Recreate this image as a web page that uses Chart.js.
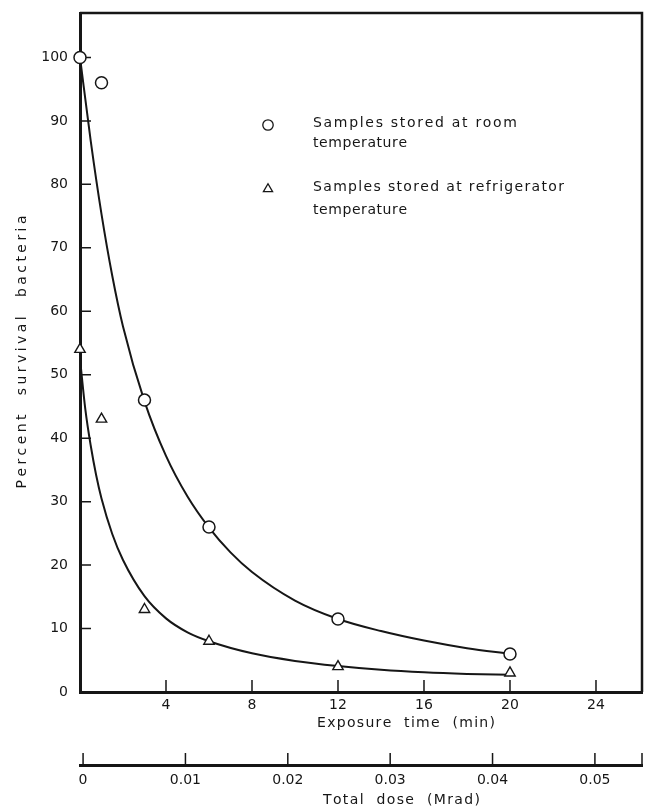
<!DOCTYPE html>
<html lang="en">
<head>
<meta charset="UTF-8">
<title>Percent survival bacteria vs exposure time</title>
<script src="https://cdn.jsdelivr.net/npm/chart.js"></script>
<style>
  html, body { margin: 0; padding: 0; background: #fff; }
  #wrap { position: relative; width: 652px; height: 811px; }
</style>
</head>
<body>
<div id="wrap"><canvas id="chart"></canvas></div>
<script>
    // measured points (exposure time in min, percent survival)
    const exposureMin = [0, 1, 3, 6, 12, 20];
    const roomTemp = [100, 96, 46, 26, 11.5, 6];
    const fridgeTemp = [54, 43, 13, 8, 4, 3];

    // the hand drawn fitted curves
    const roomCurveX = [0, 0.5, 1, 1.5, 2, 3, 4, 5, 6, 7, 8, 10, 12, 14, 16, 18, 20];
    const roomCurveY = [100, 86.8, 75.3, 65.6, 57.6, 45.8, 37.2, 30.8, 25.9, 22, 18.9, 14.4, 11.5, 9.6, 8.1, 6.9, 6];
    const fridgeCurveX = [0, 0.25, 0.5, 0.75, 1, 1.5, 2, 3, 4, 5, 6, 8, 10, 12, 14, 16, 18, 20];
    const fridgeCurveY = [52.5, 44.5, 38.8, 34.2, 30.5, 24.9, 20.8, 15.1, 11.6, 9.4, 8, 6.1, 4.9, 4.1, 3.5, 3.1, 2.85, 2.7];

    const percentTicks = [0, 10, 20, 30, 40, 50, 60, 70, 80, 90, 100];
    const timeTicks = [4, 8, 12, 16, 20, 24];
    const doseTicks = [0, 0.01, 0.02, 0.03, 0.04, 0.05];

    const legendLines = [
        ['Samples stored at room', 'temperature'],
        ['Samples stored at refrigerator', 'temperature']
    ];
    const yTitle = 'Percent  survival  bacteria';
    const timeTitle = 'Exposure  time  (min)';
    const doseTitle = 'Total  dose  (Mrad)';

    const ink = '#161616';
    const FONT = '"DejaVu Sans", sans-serif';
    Chart.defaults.font.family = FONT;
    Chart.defaults.color = ink;

    function pairs(xs, ys) {
        return xs.map((v, i) => ({x: v, y: ys[i]}));
    }

    // draw text stretched with letter spacing to a given width, starting at x
    function spacedText(ctx, text, x, y, width) {
        const chars = [...text];
        const raw = chars.reduce((s, c) => s + ctx.measureText(c).width, 0);
        const sp = Math.max(0, (width - raw) / (chars.length - 1));
        let cx = x;
        chars.forEach(c => {
            ctx.fillText(c, cx, y);
            cx += ctx.measureText(c).width + sp;
        });
    }

    // no extra room for half-labels, the frame is placed by hand
    function noPad(s) {
        s.paddingTop = 0;
        s.paddingBottom = 0;
        s.paddingLeft = 0;
        s.paddingRight = 0;
    }

    const frame = {
        id: 'frame',
        beforeDatasetsDraw(chart) {
            const {ctx, chartArea: a, scales: {x, y, dose}} = chart;
            ctx.save();
            ctx.strokeStyle = ink;
            ctx.lineWidth = 1.5;
            ctx.beginPath();
            y.ticks.forEach(t => {
                if (t.value === 0) return;
                const py = y.getPixelForValue(t.value);
                ctx.moveTo(a.left, py);
                ctx.lineTo(a.left + 11, py);
            });
            x.ticks.forEach(t => {
                const px = x.getPixelForValue(t.value);
                ctx.moveTo(px, a.bottom);
                ctx.lineTo(px, a.bottom - 12);
            });
            dose.ticks.forEach(t => {
                const px = dose.getPixelForValue(t.value);
                ctx.moveTo(px, dose.top);
                ctx.lineTo(px, dose.top - 12);
            });
            ctx.moveTo(dose.right, dose.top);
            ctx.lineTo(dose.right, dose.top - 12);
            ctx.stroke();

            ctx.lineWidth = 2.5;
            ctx.beginPath();
            ctx.moveTo(a.left, a.top);
            ctx.lineTo(a.right, a.top);
            ctx.lineTo(a.right, a.bottom);
            ctx.stroke();
            ctx.restore();
        },
        afterDraw(chart) {
            const {ctx, chartArea: a, scales: {dose}} = chart;
            ctx.save();
            ctx.fillStyle = ink;
            ctx.font = '14px ' + FONT;
            ctx.textBaseline = 'middle';
            ctx.textAlign = 'left';

            // axis titles
            spacedText(ctx, timeTitle, a.left + 237, a.bottom + 31, 178);
            spacedText(ctx, doseTitle, a.left + 243, dose.bottom - 11, 157);
            ctx.save();
            ctx.translate(22, (a.top + a.bottom) / 2);
            ctx.rotate(-Math.PI / 2);
            spacedText(ctx, yTitle, -136, 0, 273);
            ctx.restore();

            // legend
            const lx = a.left + 188, tx = a.left + 233;
            ctx.lineWidth = 1.3;
            ctx.strokeStyle = ink;
            ctx.fillStyle = '#fff';
            ctx.beginPath();
            ctx.arc(lx, a.top + 112, 5.2, 0, Math.PI * 2);
            ctx.fill();
            ctx.stroke();
            ctx.beginPath();
            const ty = a.top + 176, r = 5.3;
            ctx.moveTo(lx, ty - r);
            ctx.lineTo(lx + r * 0.866, ty + r / 2);
            ctx.lineTo(lx - r * 0.866, ty + r / 2);
            ctx.closePath();
            ctx.fill();
            ctx.stroke();

            ctx.fillStyle = ink;
            spacedText(ctx, legendLines[0][0], tx, a.top + 110, 204);
            spacedText(ctx, legendLines[0][1], tx, a.top + 130, 94);
            spacedText(ctx, legendLines[1][0], tx, a.top + 174, 251);
            spacedText(ctx, legendLines[1][1], tx, a.top + 197, 94);
            ctx.restore();
        }
    };

    const ctx = document.getElementById('chart').getContext('2d');
    new Chart(ctx, {
        type: 'line',
        data: {
            datasets: [
                {
                    label: 'Samples stored at room temperature',
                    data: pairs(exposureMin, roomTemp),
                    showLine: false,
                    pointStyle: 'circle',
                    pointRadius: 6,
                    pointBorderWidth: 1.5,
                    pointBackgroundColor: '#fff',
                    pointBorderColor: ink,
                    clip: false,
                    order: 0
                },
                {
                    label: 'Samples stored at refrigerator temperature',
                    data: pairs(exposureMin, fridgeTemp),
                    showLine: false,
                    pointStyle: 'triangle',
                    pointRadius: 6,
                    pointBorderWidth: 1.4,
                    pointBackgroundColor: '#fff',
                    pointBorderColor: ink,
                    clip: false,
                    order: 1
                },
                {
                    label: 'room fit',
                    data: pairs(roomCurveX, roomCurveY),
                    borderColor: ink,
                    borderWidth: 2,
                    pointRadius: 0,
                    cubicInterpolationMode: 'monotone',
                    clip: false,
                    order: 2
                },
                {
                    label: 'refrigerator fit',
                    data: pairs(fridgeCurveX, fridgeCurveY),
                    borderColor: ink,
                    borderWidth: 2,
                    pointRadius: 0,
                    cubicInterpolationMode: 'monotone',
                    clip: false,
                    order: 3
                }
            ]
        },
        options: {
            responsive: true,
            maintainAspectRatio: false,
            devicePixelRatio: 1,
            animation: false,
            layout: {padding: {top: 13, right: 10, left: 0, bottom: 0}},
            plugins: {
                legend: {display: false},
                tooltip: {enabled: false}
            },
            scales: {
                x: {
                    type: 'linear',
                    position: 'bottom',
                    min: 0,
                    max: 26.14,
                    grid: {display: false, drawTicks: false},
                    border: {display: true, width: 3, color: ink},
                    ticks: {font: {size: 14}, color: ink, padding: 5},
                    afterBuildTicks: s => { s.ticks = timeTicks.map(v => ({value: v})); },
                    afterFit: s => { s.height = 73; noPad(s); }
                },
                dose: {
                    type: 'linear',
                    position: 'bottom',
                    min: -0.0003,
                    max: 0.0546,
                    grid: {display: false, drawTicks: false},
                    border: {display: true, width: 3, color: ink},
                    ticks: {
                        font: {size: 14},
                        color: ink,
                        padding: 7,
                        callback: v => v === 0 ? '0' : v.toFixed(2)
                    },
                    afterBuildTicks: s => { s.ticks = doseTicks.map(v => ({value: v})); },
                    afterFit: s => { s.height = 46; noPad(s); }
                },
                y: {
                    type: 'linear',
                    min: 0,
                    max: 107,
                    grid: {display: false, drawTicks: false},
                    border: {display: true, width: 3, color: ink},
                    ticks: {font: {size: 14}, color: ink, padding: 12},
                    afterBuildTicks: s => { s.ticks = percentTicks.map(v => ({value: v})); },
                    afterFit: s => { s.width = 80; noPad(s); }
                }
            }
        },
        plugins: [frame]
    });
</script>
</body>
</html>
